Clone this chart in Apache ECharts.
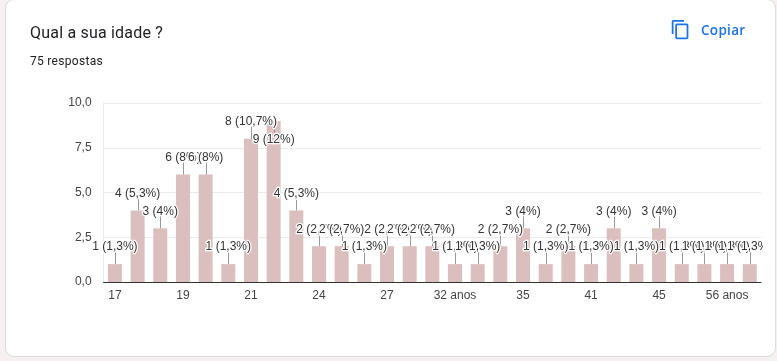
<!DOCTYPE html>
<html>
<head>
<meta charset="utf-8">
<title>Qual a sua idade ?</title>
<script src="https://cdn.jsdelivr.net/npm/echarts@6/dist/echarts.min.js"></script>
<style>
  html, body { margin: 0; padding: 0; width: 777px; height: 361px; overflow: hidden; background: #f6f0f0; }
  .card {
    position: absolute; left: 5px; top: -1px; width: 769px; height: 356px;
    background: #fff; border: 1px solid #dcdadb; border-radius: 9px;
  }
  .title { position: absolute; left: 30px; top: 23px; font: 16px/20px Roboto, sans-serif; letter-spacing: .2px; color: #202124; }
  .sub { position: absolute; left: 30px; top: 54px; font: 12px/15px Roboto, sans-serif; letter-spacing: .3px; color: #202124; }
  .copy { position: absolute; left: 701px; top: 21px; font: 600 13.5px/18px "Open Sans", sans-serif; letter-spacing: .3px; color: #1a73e8; }
  .icon { position: absolute; left: 670px; top: 19px; width: 21px; height: 21px; }
  #chartDom { position: absolute; left: 0; top: 0; width: 763px; height: 361px; }
</style>
</head>
<body>
<div class="card"></div>
<div id="chartDom"></div>
<div class="title">Qual a sua idade ?</div>
<div class="sub">75 respostas</div>
<svg class="icon" viewBox="0 0 24 24"><path fill="#1a73e8" d="M16 1H4c-1.1 0-2 .9-2 2v14h2V3h12V1zm3 4H8c-1.1 0-2 .9-2 2v14c0 1.100.9 2 2 2h11c1.100 0 2-.9 2-2V7c0-1.100-.9-2-2-2zm0 16H8V7h11v14z"/></svg>
<div class="copy">Copiar</div>
<script>
// only every third age is readable in the picture, the others are guesses
const ages = ['17', '18', '18 anos', '19', '20', '20 anos', '21', '22', '23', '24', '25', '26', '27', '28', '30',
  '32 anos', '33', '34', '35', '37', '40', '41', '42', '43', '45', '47', '50', '56 anos', '60']
const counts = [1, 4, 3, 6, 6, 1, 8, 9, 4, 2, 2, 1, 2, 2, 2, 1, 1, 2, 3, 1, 2, 1, 3, 1, 3, 1, 1, 1, 1]
const shares = ['1,3%', '5,3%', '4%', '8%', '8%', '1,3%', '10,7%', '12%', '5,3%', '2,7%', '2,7%', '1,3%', '2,7%', '2,7%', '2,7%',
  '1,3%', '1,3%', '2,7%', '4%', '1,3%', '2,7%', '1,3%', '4%', '1,3%', '4%', '1,3%', '1,3%', '1,3%', '1,3%']

const highest = Math.max(...counts)
const chart = echarts.init(document.getElementById('chartDom'))

chart.setOption({
  animation: false,
  textStyle: { fontFamily: '"Liberation Sans", Arial, sans-serif' },
  grid: { left: 103.6, right: 1.9, top: 103, bottom: 79 },
  xAxis: {
    type: 'category',
    data: ages,
    axisTick: { show: false },
    axisLine: { lineStyle: { color: '#333', width: 1 } },
    axisLabel: { interval: 2, color: '#444', fontSize: 12, margin: 8 }
  },
  yAxis: {
    type: 'value',
    min: 0,
    max: 10,
    interval: 2.5,
    axisLine: { show: true, lineStyle: { color: '#ebebeb' } },
    axisTick: { show: false },
    splitLine: { lineStyle: { color: '#ebebeb' } },
    axisLabel: {
      color: '#444',
      fontSize: 12,
      margin: 12,
      formatter: (v) => v.toFixed(1).replace('.', ',')
    }
  },
  series: [
    {
      type: 'bar',
      z: 1,
      barWidth: 14,
      barGap: '-100%',
      itemStyle: { color: '#dbbfbf' },
      data: counts
    },
    {
      // leader lines between bar top and its label, the tallest one points down into its bar
      type: 'custom',
      z: 2,
      silent: true,
      data: counts.map((v, i) => [i, v]),
      renderItem: (params, api) => {
        const p = api.coord([api.value(0), api.value(1)])
        const x = Math.round(p[0]) + 0.5
        const len = api.value(1) === highest ? 12 : -12
        return {
          type: 'line',
          shape: { x1: x, y1: p[1], x2: x, y2: p[1] + len },
          style: { stroke: '#999', lineWidth: 1 }
        }
      }
    },
    {
      // invisible copy of the bars that only carries the labels, above the leaders
      type: 'bar',
      z: 3,
      barWidth: 14,
      barGap: '-100%',
      itemStyle: { color: 'transparent' },
      label: {
        show: true,
        position: 'top',
        distance: 11,
        color: '#333',
        fontSize: 12,
        textBorderColor: '#fff',
        textBorderWidth: 2.5,
        formatter: (p) => p.value + ' (' + shares[p.dataIndex] + ')'
      },
      data: counts.map((v) => v === highest ? { value: v, label: { offset: [0, 36] } } : v)
    }
  ]
})
</script>
</body>
</html>
